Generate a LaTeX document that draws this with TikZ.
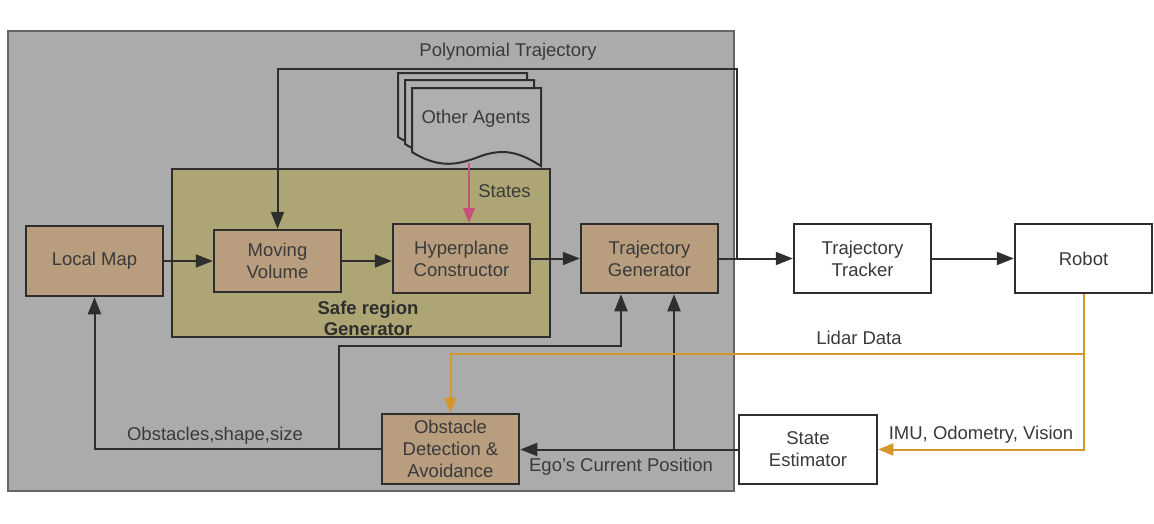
\documentclass[tikz,border=0pt]{standalone}
\usepackage{fontspec}
\setmainfont{Liberation Sans}
\usetikzlibrary{arrows.meta,positioning}
\definecolor{bggray}{HTML}{ABABAB}
\definecolor{olive}{HTML}{ADA573}
\definecolor{tan}{HTML}{B89E7E}
\definecolor{ink}{HTML}{2E2E2E}
\definecolor{txt}{HTML}{3A3A3A}
\definecolor{pinkc}{HTML}{C8507A}
\definecolor{orangec}{HTML}{D4982A}
\definecolor{pagefill}{HTML}{AFAFAF}
\tikzset{
  box/.style={draw=ink, line width=2.5pt, fill=tan, text=txt, align=center, minimum width=137pt, minimum height=69pt, inner sep=0pt, font=\fontsize{18.5}{22}\selectfont},
  wbox/.style={box, fill=white},
  arr/.style={draw=ink, line width=2pt, -{Triangle[length=17pt,width=13pt]}},
  oarr/.style={draw=orangec, line width=2pt, -{Triangle[length=15pt,width=12pt]}},
  parr/.style={draw=pinkc, line width=2pt, -{Triangle[length=15pt,width=12pt]}},
  lbl/.style={text=txt, inner sep=0pt, font=\fontsize{18.5}{22}\selectfont, align=center},
  page/.style={draw=ink, line width=2pt, fill=pagefill},
}
\newcommand\docpage[2]{%
  \draw[page] (#1,#2) -- (#1+129,#2) -- (#1+129,#2+78)
    .. controls (#1+110,#2+66) and (#1+95,#2+60) .. (#1+72,#2+67)
    .. controls (#1+52,#2+74) and (#1+32,#2+84) .. (#1,#2+64) -- cycle;}
\begin{document}
\begin{tikzpicture}[x=1pt,y=-1pt]
\useasboundingbox (0,0) rectangle (1154,523);
\fill[white] (0,0) rectangle (1154,523);
% background regions
\draw[fill=bggray, draw=gray!80!black, line width=1.2pt] (8,31) rectangle (734,491);
\draw[fill=olive, draw=ink, line width=2.5pt] (172,169) rectangle (550,337);
% other agents document stack
\docpage{398}{73}
\docpage{405}{80}
\docpage{412}{88}
\node[lbl] (agents) at (476,119) {Other Agents};
\coordinate (agbot) at (469,163);
% nodes
\node[box, minimum height=70pt] (localmap) at (94.5,261) {Local Map};
\node[box, minimum width=127pt, minimum height=62pt] (moving) at (277.5,261) {Moving\\Volume};
\node[box] (hyper) at (461.5,258.5) {Hyperplane\\Constructor};
\node[box] (tgen) at (649.5,258.5) {Trajectory\\Generator};
\node[wbox] (tracker) at (862.5,258.5) {Trajectory\\Tracker};
\node[wbox] (robot) at (1083.5,258.5) {Robot};
\node[wbox, minimum width=138pt] (state) at (808,449.5) {State\\Estimator};
\node[box, minimum height=70pt] (obst) at (450.5,449) {Obstacle\\Detection \&\\Avoidance};
% labels
\node[lbl] (lpoly) at (508,52) {Polynomial Trajectory};
\node[lbl] (lstates) at (504.5,191) {States};
\node[lbl, font=\fontsize{18.5}{21}\selectfont\bfseries, text=ink] (lsafe) at (368,318) {Safe region\\Generator};
\node[lbl] (llidar) at (859,338) {Lidar Data};
\node[lbl] (limu) at (981,435) {IMU, Odometry, Vision};
\node[lbl] (lego) at (621,467) {Ego's Current Position};
\node[lbl] (lobs) at (215,436) {Obstacles,shape,size};
% connectors
\draw[arr] (localmap.east) -- (moving.west);
\draw[arr] (moving.east) -- (moving.east -| hyper.west);
\draw[arr] (hyper.east) -- (tgen.west);
\draw[arr] (tgen.east) -- (tracker.west);
\draw[arr] (tracker.east) -- (robot.west);
\coordinate (pj) at (737,258.5);
\coordinate (ptop) at (737,69);
\draw[arr] (pj) -- (ptop) -| (moving.north);
\draw[parr] (agbot) -- (agbot |- hyper.north);
% lower connections
\draw[arr] (obst.west) -| (localmap.south);
\coordinate (b1) at (339,449);
\coordinate (b1t) at (339,346);
\draw[arr] (b1) -- (b1t) -| ([xshift=-28.5pt]tgen.south);
\draw[arr] (state.west) -- (obst.east |- state.west);
\coordinate (b2) at (674,449.5);
\draw[arr] (b2) -- (b2 |- tgen.south);
% orange
\draw[oarr] (robot.south) |- (state.east);
\coordinate (ob) at (1083.5,354);
\draw[oarr] (ob) -| (obst.north);
\end{tikzpicture}
\end{document}
